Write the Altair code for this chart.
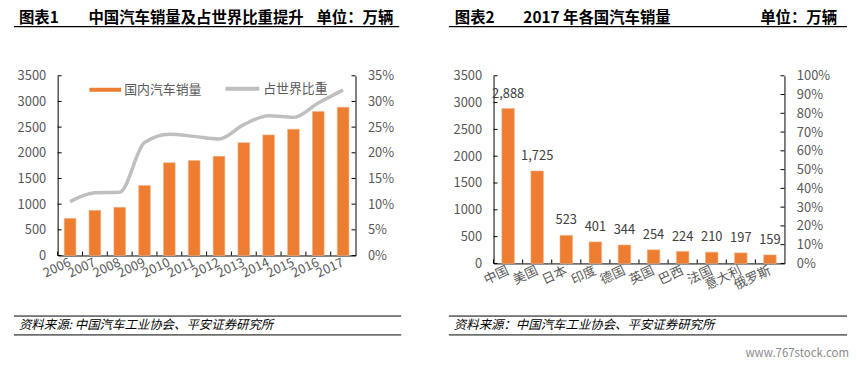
import altair as alt
import pandas as pd

# ---------------- data ----------------
years = ['2006', '2007', '2008', '2009', '2010', '2011', '2012', '2013', '2014', '2015', '2016', '2017']
china_sales = [722, 879, 938, 1364, 1806, 1851, 1931, 2198, 2349, 2460, 2803, 2888]
world_share = [0.105, 0.122, 0.123, 0.220, 0.236, 0.232, 0.227, 0.255, 0.272, 0.269, 0.297, 0.322]

countries = ['中国', '美国', '日本', '印度', '德国', '英国', '巴西', '法国', '意大利', '俄罗斯']
country_sales = [2888, 1725, 523, 401, 344, 254, 224, 210, 197, 159]

left_ticks = [0, 500, 1000, 1500, 2000, 2500, 3000, 3500]
right_ticks1 = [0, 0.05, 0.10, 0.15, 0.20, 0.25, 0.30, 0.35]
right_ticks2 = [0, 0.1, 0.2, 0.3, 0.4, 0.5, 0.6, 0.7, 0.8, 0.9, 1.0]

bar_name = '国内汽车销量'
line_name = '占世界比重'
title1_tag, title1_main, unit = '图表1', '中国汽车销量及占世界比重提升', '单位：万辆'
title2_tag, title2_main = '图表2', '2017 年各国汽车销量'
source1 = '资料来源: 中国汽车工业协会、平安证券研究所'
source2 = '资料来源：中国汽车工业协会、平安证券研究所'
watermark = 'www.767stock.com'

# ---------------- style ----------------
FONT = 'Noto Sans CJK SC'
ORANGE = '#ED7D31'
GREY = '#BFBFBF'
LABEL = '#595959'
W1, H1 = 300, 181
W2, H2 = 293, 189
TY = -58


def txt(s, x, y, size=15.5, weight='bold', align='left', style='normal', color='#000000'):
    return alt.Chart(pd.DataFrame({'t': [s]})).mark_text(
        align=align, baseline='middle', fontSize=size, fontWeight=weight,
        fontStyle=style, color=color, font=FONT
    ).encode(text='t:N', x=alt.value(x), y=alt.value(y))


def hrule(x1, x2, y, w):
    return alt.Chart(pd.DataFrame({'a': [0]})).mark_rule(color='#000000', strokeWidth=w).encode(
        x=alt.value(x1), x2=alt.value(x2), y=alt.value(y))


def yaxis(orient, values, fmt):
    return alt.Axis(title=None, orient=orient, values=values, ticks=False, grid=False,
                    labelPadding=12, labelColor=LABEL, labelFont=FONT, labelFontSize=13,
                    domainColor='#000000', format=fmt)


def xaxis():
    return alt.Axis(title=None, labelAngle=-25, labelAlign='right', labelBaseline='middle',
                    labelPadding=6, ticks=False, labelColor=LABEL, labelFont=FONT,
                    labelFontSize=13, labelOverlap=False, domainColor='#000000')


# ---------------- panel 1 ----------------
df1 = pd.DataFrame({'year': years, 'sales': china_sales, 'share': world_share,
                    'bname': bar_name, 'lname': line_name})
xs1 = alt.Scale(domain=years, paddingInner=0.53, paddingOuter=0.265)

bars1 = alt.Chart(df1).mark_bar(stroke='#F4B183', strokeWidth=0.6).encode(
    x=alt.X('year:N', scale=xs1, axis=xaxis()),
    y=alt.Y('sales:Q', scale=alt.Scale(domain=[0, 3500]), axis=yaxis('left', left_ticks, 'd')),
    fill=alt.Fill('bname:N', scale=alt.Scale(domain=[bar_name], range=[ORANGE]),
                  legend=alt.Legend(title=None, orient='none', legendX=32, legendY=-2,
                                    direction='horizontal', symbolType='M-1,-0.125H1V0.125H-1Z',
                                    symbolSize=1024, symbolStrokeWidth=0, labelFont=FONT,
                                    labelFontSize=13, labelColor=LABEL, labelOffset=3, padding=0)),
)

line1 = alt.Chart(df1).mark_line(strokeWidth=3.5, interpolate='monotone').encode(
    x=alt.X('year:N'),
    y=alt.Y('share:Q', scale=alt.Scale(domain=[0, 0.35]), axis=yaxis('right', right_ticks1, '.0%')),
    stroke=alt.Stroke('lname:N', scale=alt.Scale(domain=[line_name], range=[GREY]),
                      legend=alt.Legend(title=None, orient='none', legendX=167, legendY=-6,
                                        direction='horizontal', symbolType='stroke',
                                        symbolSize=1156, symbolStrokeWidth=4, labelFont=FONT,
                                        labelFontSize=13, labelColor=LABEL, labelOffset=2, padding=0)),
)

lt1 = alt.Chart(pd.DataFrame({'v': left_ticks})).mark_rule(color='#000000').encode(
    y=alt.Y('v:Q', scale=alt.Scale(domain=[0, 3500]), axis=None),
    x=alt.value(0), x2=alt.value(4))
rt1 = alt.Chart(pd.DataFrame({'v': right_ticks1})).mark_rule(color='#000000').encode(
    y=alt.Y('v:Q', scale=alt.Scale(domain=[0, 0.35]), axis=None),
    x=alt.value(W1 - 4), x2=alt.value(W1))
xt1 = alt.Chart(df1).mark_rule(color='#000000', xOffset=-0.265 * W1 / 12).encode(
    x=alt.X('year:N', bandPosition=0), y=alt.value(H1 - 4), y2=alt.value(H1))

panel1 = alt.layer(
    bars1, line1, lt1, rt1, xt1,
    txt(title1_tag, -39, TY), txt(title1_main, 31, TY), txt(unit, 338, TY, align='right'),
    hrule(-44, 344, -49.5, 1.5),
    hrule(-44, 346, 242, 1), hrule(-44, 346, 261, 1),
    txt(source1, -39, 251.5, size=12.5, weight='normal', style='italic'),
).resolve_scale(y='independent').properties(width=W1, height=H1)

# ---------------- panel 2 ----------------
df2 = pd.DataFrame({'country': countries, 'sales': country_sales})
xs2 = alt.Scale(domain=countries, paddingInner=0.57, paddingOuter=0.285)

bars2 = alt.Chart(df2).mark_bar(color=ORANGE, stroke='#F4B183', strokeWidth=0.6).encode(
    x=alt.X('country:N', scale=xs2, axis=xaxis(), sort=None),
    y=alt.Y('sales:Q', scale=alt.Scale(domain=[0, 3500]), axis=yaxis('left', left_ticks, 'd')),
)
labels2 = alt.Chart(df2).mark_text(dy=-15, baseline='middle', fontSize=13, color='#404040', font=FONT).encode(
    x=alt.X('country:N', sort=None),
    y=alt.Y('sales:Q', scale=alt.Scale(domain=[0, 3500]), axis=None),
    text=alt.Text('sales:Q', format=','),
)
lt2 = alt.Chart(pd.DataFrame({'v': left_ticks})).mark_rule(color='#000000').encode(
    y=alt.Y('v:Q', scale=alt.Scale(domain=[0, 3500]), axis=None),
    x=alt.value(0), x2=alt.value(4))
rt2 = alt.Chart(pd.DataFrame({'v': right_ticks2})).mark_rule(color='#000000').encode(
    y=alt.Y('v:Q', scale=alt.Scale(domain=[0, 1]), axis=yaxis('right', right_ticks2, '.0%')),
    x=alt.value(W2 - 4), x2=alt.value(W2))
xt2 = alt.Chart(df2).mark_rule(color='#000000', xOffset=-0.285 * W2 / 10).encode(
    x=alt.X('country:N', bandPosition=0, sort=None), y=alt.value(H2 - 4), y2=alt.value(H2))

panel2 = alt.layer(
    bars2, labels2, lt2, rt2, xt2,
    txt(title2_tag, -39, TY), txt(title2_main, 30, TY), txt(unit, 346, TY, align='right'),
    hrule(-45, 356, -49.5, 1.5),
    hrule(-45, 356, 242, 1), hrule(-45, 356, 261, 1),
    txt(source2, -40, 251.5, size=12.5, weight='normal', style='italic'),
    txt(watermark, 358, 280, size=11.5, weight='normal', align='right', color='#8C8C8C'),
).resolve_scale(y='independent').properties(width=W2, height=H2)

chart = alt.hconcat(panel1, panel2, spacing=46).properties(
    padding={'left': 5, 'top': 2, 'right': 0, 'bottom': 0},
    background='white',
).configure_view(stroke=None)

chart.save("out.html", embed_options={"renderer": "svg", "actions": False})
